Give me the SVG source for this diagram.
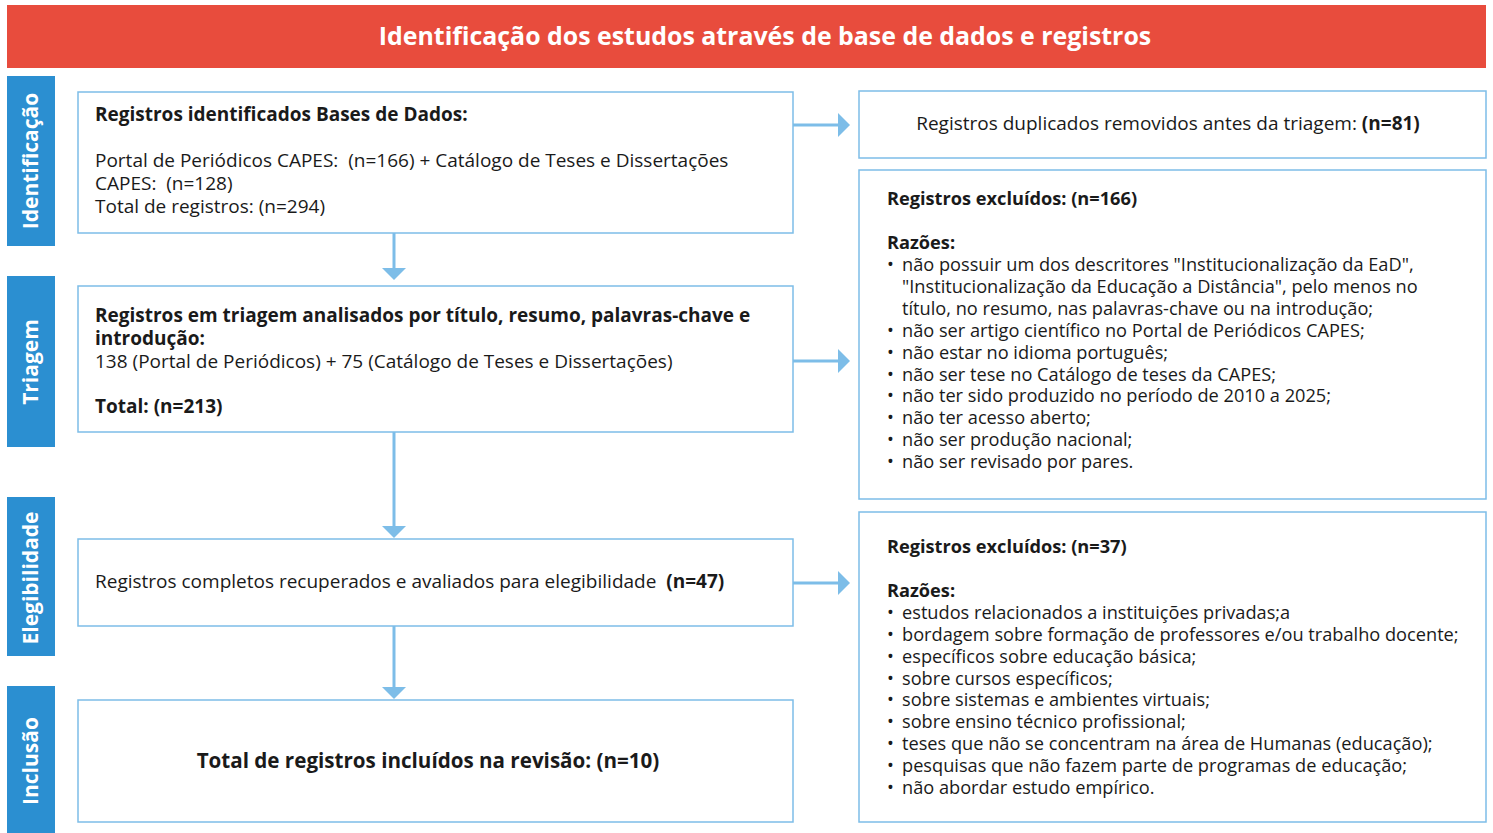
<svg xmlns="http://www.w3.org/2000/svg" width="1493" height="833" viewBox="0 0 1493 833">
<style>
text{font-family:"Open Sans","Noto Sans","Liberation Sans",sans-serif;fill:#1a1a1a;font-size:19px}
.r{font-size:18.2px}
.b{font-weight:bold}
.box{fill:#fff;stroke:#7dbde8;stroke-width:1.5}
.tab{fill:#2b8fd1}
.tt{fill:#fff;font-weight:bold;font-size:21px;text-anchor:middle}
.ln{stroke:#7dbde8;stroke-width:3;fill:none}
.ah{fill:#7dbde8}
</style>
<rect width="1493" height="833" fill="#fff"/>
<g id="header">
<rect x="7" y="5" width="1479" height="63" fill="#e84c3d"/>
<text x="765" y="45" text-anchor="middle" style="fill:#fff;font-weight:bold;font-size:24.9px">Identificação dos estudos através de base de dados e registros</text>
</g>
<g id="tab-identificacao"><rect class="tab" x="7" y="76" width="48" height="170"/><text class="tt" transform="translate(38,161) rotate(-90)">Identificação</text></g>
<g id="tab-triagem"><rect class="tab" x="7" y="276" width="48" height="171"/><text class="tt" transform="translate(38,362) rotate(-90)">Triagem</text></g>
<g id="tab-elegibilidade"><rect class="tab" x="7" y="497" width="48" height="159"/><text class="tt" transform="translate(38,578) rotate(-90)">Elegibilidade</text></g>
<g id="tab-inclusao"><rect class="tab" x="7" y="686" width="48" height="147"/><text class="tt" transform="translate(38,761) rotate(-90)">Inclusão</text></g>

<g id="connectors">
<line class="ln" x1="394" y1="233" x2="394" y2="268"/><polygon class="ah" points="382,268 406,268 394,280"/>
<line class="ln" x1="394" y1="432" x2="394" y2="526"/><polygon class="ah" points="382,526 406,526 394,538"/>
<line class="ln" x1="394" y1="626" x2="394" y2="687"/><polygon class="ah" points="382,687 406,687 394,699"/>
<line class="ln" x1="793" y1="125" x2="838" y2="125"/><polygon class="ah" points="838,113 838,137 850,125"/>
<line class="ln" x1="793" y1="361" x2="838" y2="361"/><polygon class="ah" points="838,349 838,373 850,361"/>
<line class="ln" x1="793" y1="583" x2="838" y2="583"/><polygon class="ah" points="838,571 838,595 850,583"/>
</g>

<g id="box-identificados">
<rect class="box" x="78" y="92" width="715" height="141"/>
<text class="b" x="95" y="121">Registros identificados Bases de Dados:</text>
<text x="95" y="167" xml:space="preserve">Portal de Periódicos CAPES:  (n=166) + Catálogo de Teses e Dissertações<tspan x="95" dy="23">CAPES:  (n=128)</tspan><tspan x="95" dy="23">Total de registros: (n=294)</tspan></text>
</g>
<g id="box-triagem">
<rect class="box" x="78" y="286" width="715" height="146"/>
<text class="b" x="95" y="322">Registros em triagem analisados por título, resumo, palavras-chave e<tspan x="95" dy="23">introdução:</tspan><tspan x="95" dy="23" style="font-weight:normal">138 (Portal de Periódicos) + 75 (Catálogo de Teses e Dissertações)</tspan></text>
<text class="b" x="95" y="413">Total: (n=213)</text>
</g>
<g id="box-elegibilidade">
<rect class="box" x="78" y="539" width="715" height="87"/>
<text x="95" y="588" xml:space="preserve">Registros completos recuperados e avaliados para elegibilidade  <tspan class="b">(n=47)</tspan></text>
</g>
<g id="box-inclusao">
<rect class="box" x="78" y="700" width="715" height="122"/>
<text class="b" x="428" y="768" text-anchor="middle" style="font-size:20.6px">Total de registros incluídos na revisão: (n=10)</text>
</g>

<g id="box-duplicados">
<rect class="box" x="859" y="91" width="627" height="67"/>
<text x="1168" y="130" text-anchor="middle">Registros duplicados removidos antes da triagem: <tspan class="b">(n=81)</tspan></text>
</g>
<g id="box-excluidos-166">
<rect class="box" x="859" y="170" width="627" height="329"/>
<text class="b r" x="887" y="205">Registros excluídos: (n=166)</text>
<text class="r" x="887" y="249"><tspan class="b">Razões:</tspan><tspan x="887" dy="22">•</tspan><tspan x="902">não possuir um dos descritores "Institucionalização da EaD",</tspan><tspan x="902" dy="22">"Institucionalização da Educação a Distância", pelo menos no</tspan><tspan x="902" dy="22">título, no resumo, nas palavras-chave ou na introdução;</tspan><tspan x="887" dy="22">•</tspan><tspan x="902">não ser artigo científico no Portal de Periódicos CAPES;</tspan><tspan x="887" dy="21.8">•</tspan><tspan x="902">não estar no idioma português;</tspan><tspan x="887" dy="21.8">•</tspan><tspan x="902">não ser tese no Catálogo de teses da CAPES;</tspan><tspan x="887" dy="21.8">•</tspan><tspan x="902">não ter sido produzido no período de 2010 a 2025;</tspan><tspan x="887" dy="21.8">•</tspan><tspan x="902">não ter acesso aberto;</tspan><tspan x="887" dy="21.8">•</tspan><tspan x="902">não ser produção nacional;</tspan><tspan x="887" dy="21.8">•</tspan><tspan x="902">não ser revisado por pares.</tspan></text>
</g>
<g id="box-excluidos-37">
<rect class="box" x="859" y="512" width="627" height="310"/>
<text class="b r" x="887" y="553">Registros excluídos: (n=37)</text>
<text class="r" x="887" y="597"><tspan class="b">Razões:</tspan><tspan x="887" dy="22">•</tspan><tspan x="902">estudos relacionados a instituições privadas;a</tspan><tspan x="887" dy="22">•</tspan><tspan x="902">bordagem sobre formação de professores e/ou trabalho docente;</tspan><tspan x="887" dy="21.8">•</tspan><tspan x="902">específicos sobre educação básica;</tspan><tspan x="887" dy="21.8">•</tspan><tspan x="902">sobre cursos específicos;</tspan><tspan x="887" dy="21.8">•</tspan><tspan x="902">sobre sistemas e ambientes virtuais;</tspan><tspan x="887" dy="21.8">•</tspan><tspan x="902">sobre ensino técnico profissional;</tspan><tspan x="887" dy="21.8">•</tspan><tspan x="902">teses que não se concentram na área de Humanas (educação);</tspan><tspan x="887" dy="21.8">•</tspan><tspan x="902">pesquisas que não fazem parte de programas de educação;</tspan><tspan x="887" dy="21.8">•</tspan><tspan x="902">não abordar estudo empírico.</tspan></text>
</g>
</svg>
